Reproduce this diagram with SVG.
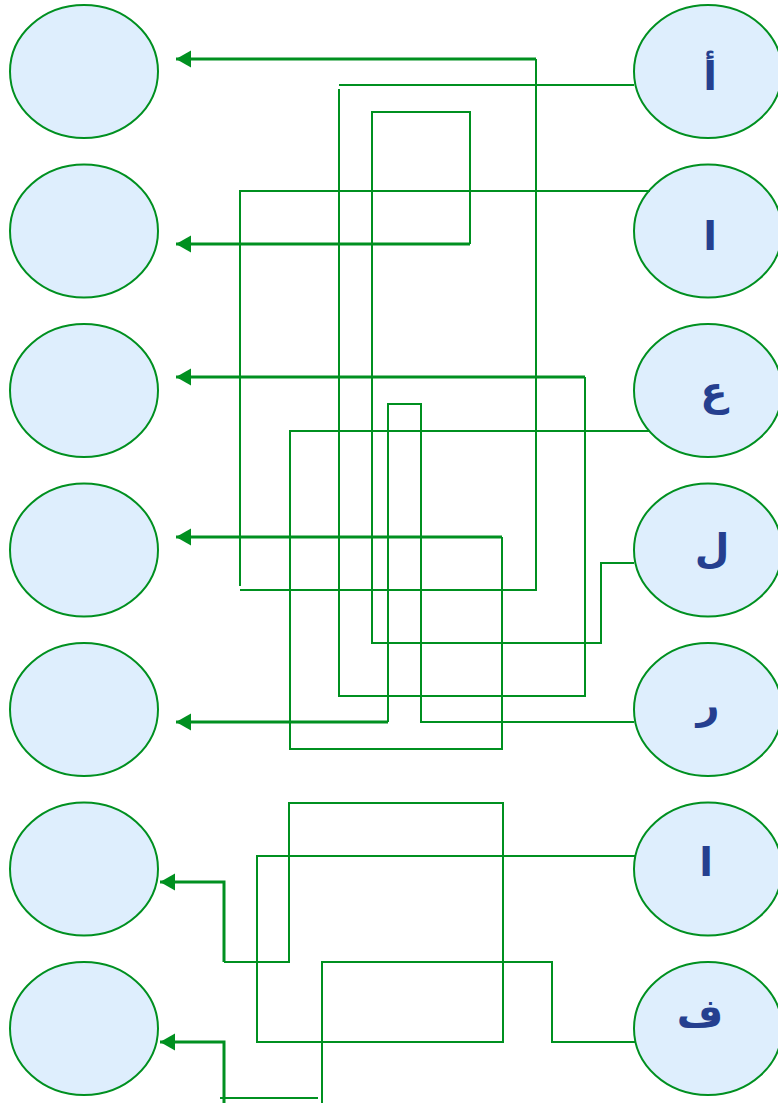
<svg xmlns="http://www.w3.org/2000/svg" width="778" height="1103" viewBox="0 0 778 1103">
<style>
.node{fill:#deeefd;stroke:#009020;stroke-width:2}
.lbl{font-family:"DejaVu Sans",sans-serif;font-weight:bold;font-size:40px;fill:#253f8f;text-anchor:middle}
.c{fill:none;stroke:#009020;stroke-width:2}
.a{fill:none;stroke:#009020;stroke-width:3;marker-end:url(#ah)}
</style>
<defs>
<marker id="ah" markerUnits="userSpaceOnUse" markerWidth="16" markerHeight="18" refX="15" refY="8.5" orient="auto">
<path d="M0,0 L15,8.5 L0,17 Z" fill="#009020"/>
</marker>
</defs>
<rect width="778" height="1103" fill="#ffffff"/>
<g id="left-nodes">
<g id="L1"><ellipse class="node" cx="84" cy="71.5" rx="74" ry="66.5"/></g>
<g id="L2"><ellipse class="node" cx="84" cy="231" rx="74" ry="66.5"/></g>
<g id="L3"><ellipse class="node" cx="84" cy="390.5" rx="74" ry="66.5"/></g>
<g id="L4"><ellipse class="node" cx="84" cy="550" rx="74" ry="66.5"/></g>
<g id="L5"><ellipse class="node" cx="84" cy="709.5" rx="74" ry="66.5"/></g>
<g id="L6"><ellipse class="node" cx="84" cy="869" rx="74" ry="66.5"/></g>
<g id="L7"><ellipse class="node" cx="84" cy="1028.5" rx="74" ry="66.5"/></g>
</g>
<g id="right-nodes">
<g id="R1"><ellipse class="node" cx="708" cy="71.5" rx="74" ry="66.5"/><text class="lbl" x="710" y="90">أ</text></g>
<g id="R2"><ellipse class="node" cx="708" cy="231" rx="74" ry="66.5"/><text class="lbl" x="710" y="250">ا</text></g>
<g id="R3"><ellipse class="node" cx="708" cy="390.5" rx="74" ry="66.5"/><text class="lbl" x="714" y="405">ع</text></g>
<g id="R4"><ellipse class="node" cx="708" cy="550" rx="74" ry="66.5"/><text class="lbl" x="712" y="562">ل</text></g>
<g id="R5"><ellipse class="node" cx="708" cy="709.5" rx="74" ry="66.5"/><text class="lbl" x="708" y="718">ر</text></g>
<g id="R6"><ellipse class="node" cx="708" cy="869" rx="74" ry="66.5"/><text class="lbl" x="706" y="876">ا</text></g>
<g id="R7"><ellipse class="node" cx="708" cy="1028.5" rx="74" ry="66.5"/><text class="lbl" x="700" y="1027">ف</text></g>
</g>
<g id="connectors">
<path class="c" d="M650,191 H240 V586"/>
<path class="c" d="M240,590 H536 V59"/>
<path class="a" d="M536,59 H176"/>
<path class="c" d="M634,563 H601 V643 H372 V112 H470 V244"/>
<path class="a" d="M470,244 H176"/>
<path class="c" d="M634,85 H339"/>
<path class="c" d="M339,89 V696 H585 V377"/>
<path class="a" d="M585,377 H176"/>
<path class="c" d="M650,431 H290 V749 H502 V537"/>
<path class="a" d="M502,537 H176"/>
<path class="c" d="M634,722 H421 V404 H388 V722"/>
<path class="a" d="M388,722 H176"/>
<path class="c" d="M635,856 H257 V1042 H503 V803 H289 V962 H224"/>
<path class="a" d="M224,962 V882 H160"/>
<path class="c" d="M635,1042 H552 V962 H322 V1103"/>
<path class="c" d="M318,1098 H220"/>
<path class="a" d="M224,1103 V1042 H160"/>
</g>
</svg>
